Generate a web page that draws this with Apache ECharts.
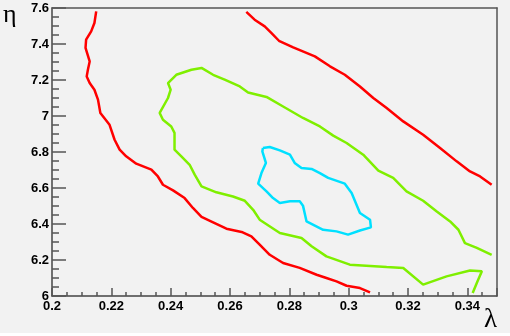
<!DOCTYPE html>
<html>
<head>
<meta charset="utf-8">
<script src="https://cdn.jsdelivr.net/npm/echarts@6/dist/echarts.min.js"></script>
<style>
  html, body { margin: 0; padding: 0; background: #ffffff; }
  #chart { width: 510px; height: 333px; background: #f2f2f2; }
</style>
</head>
<body>
<div id="chart"></div>
<script>
// contour lines, points as [lambda, eta]
const redLeft = [
  [0.2149, 7.581], [0.2143, 7.517], [0.2132, 7.470], [0.2115, 7.424], [0.2113, 7.378],
  [0.2127, 7.303], [0.2121, 7.257], [0.2117, 7.220], [0.2127, 7.183], [0.2143, 7.146],
  [0.2155, 7.091], [0.2163, 7.017], [0.2194, 6.951], [0.2211, 6.868], [0.2228, 6.813],
  [0.2250, 6.776], [0.2284, 6.735], [0.2335, 6.702], [0.2357, 6.664], [0.2374, 6.618],
  [0.2408, 6.587], [0.2447, 6.544], [0.2475, 6.489], [0.2504, 6.439], [0.2543, 6.409],
  [0.2588, 6.374], [0.2639, 6.356], [0.2672, 6.331], [0.2700, 6.285], [0.2734, 6.229],
  [0.2779, 6.183], [0.2835, 6.156], [0.2892, 6.118], [0.2925, 6.100], [0.2959, 6.081],
  [0.2993, 6.057], [0.3038, 6.044], [0.3072, 6.020]
]
const redRight = [
  [0.2655, 7.578], [0.2683, 7.535], [0.2717, 7.498], [0.2740, 7.461], [0.2765, 7.418],
  [0.2813, 7.381], [0.2886, 7.331], [0.2937, 7.276], [0.2987, 7.229], [0.3038, 7.164],
  [0.3083, 7.100], [0.3128, 7.044], [0.3184, 6.970], [0.3251, 6.896], [0.3308, 6.822],
  [0.3364, 6.748], [0.3409, 6.692], [0.3443, 6.664], [0.3482, 6.618]
]
const greenLine = [
  [0.3482, 6.229], [0.3432, 6.267], [0.3392, 6.294], [0.3370, 6.368], [0.3342, 6.414],
  [0.3297, 6.470], [0.3251, 6.529], [0.3195, 6.581], [0.3150, 6.656], [0.3100, 6.696],
  [0.3049, 6.785], [0.2993, 6.850], [0.2948, 6.891], [0.2903, 6.942], [0.2846, 6.989],
  [0.2779, 7.053], [0.2723, 7.106], [0.2661, 7.131], [0.2633, 7.164], [0.2582, 7.202],
  [0.2543, 7.229], [0.2504, 7.267], [0.2470, 7.257], [0.2419, 7.229], [0.2391, 7.183],
  [0.2400, 7.146], [0.2391, 7.100], [0.2363, 7.017], [0.2374, 6.979], [0.2402, 6.942],
  [0.2413, 6.906], [0.2413, 6.813], [0.2436, 6.776], [0.2464, 6.729], [0.2481, 6.674],
  [0.2504, 6.609], [0.2554, 6.576], [0.2610, 6.553], [0.2650, 6.529], [0.2678, 6.479],
  [0.2700, 6.424], [0.2768, 6.350], [0.2841, 6.322], [0.2875, 6.276], [0.2925, 6.220],
  [0.3004, 6.174], [0.3128, 6.161], [0.3184, 6.156], [0.3251, 6.063], [0.3330, 6.109],
  [0.3409, 6.142], [0.3449, 6.137], [0.3434, 6.081], [0.3418, 6.017]
]
const cyanLoop = [
  [0.2711, 6.822], [0.2734, 6.828], [0.2768, 6.809], [0.2802, 6.785], [0.2818, 6.739],
  [0.2841, 6.711], [0.2875, 6.706], [0.2903, 6.683], [0.2931, 6.656], [0.2987, 6.624],
  [0.3010, 6.572], [0.3038, 6.461], [0.3072, 6.424], [0.3075, 6.381], [0.3038, 6.364],
  [0.2998, 6.341], [0.2959, 6.359], [0.2914, 6.368], [0.2858, 6.414], [0.2846, 6.502],
  [0.2835, 6.526], [0.2802, 6.526], [0.2768, 6.517], [0.2745, 6.544], [0.2723, 6.581],
  [0.2695, 6.624], [0.2706, 6.683], [0.2721, 6.739], [0.2709, 6.803], [0.2711, 6.822]
]

const xRange = [0.2, 0.35]
const yRange = [6, 7.6]
const xLabel = 'λ'
const yLabel = 'η'

const chart = echarts.init(document.getElementById('chart'))

function contour(data, color) {
  return {
    type: 'line',
    data: data,
    showSymbol: false,
    smooth: false,
    silent: true,
    lineStyle: { color: color, width: 2.5 }
  }
}

const labelFont = {
  color: '#000',
  fontFamily: 'Liberation Sans',
  fontWeight: 'bold',
  fontSize: 13
}

// top / right frame lines: bare axes with only a line
function frameAxis(pos, range) {
  return {
    type: 'value', position: pos, min: range[0], max: range[1],
    axisLine: { show: true, lineStyle: { color: '#555', width: 1.5 } },
    axisTick: { show: false }, axisLabel: { show: false }, splitLine: { show: false }
  }
}

const option = {
  animation: false,
  grid: { left: 52, right: 13, top: 8, bottom: 37 },
  xAxis: [{
    type: 'value',
    min: xRange[0],
    max: xRange[1],
    interval: 0.02,
    axisLine: { show: true, lineStyle: { color: '#444', width: 1.5 } },
    axisTick: { show: true, inside: true, length: 8, lineStyle: { color: '#555', width: 1.5 } },
    minorTick: { show: true, splitNumber: 4, length: 4, lineStyle: { color: '#555', width: 1.5 } },
    splitLine: { show: false },
    axisLabel: Object.assign({ margin: 4, showMaxLabel: false,
      formatter: v => String(+v.toFixed(2)) }, labelFont)
  }, frameAxis('top', xRange)],
  yAxis: [{
    type: 'value',
    min: yRange[0],
    max: yRange[1],
    interval: 0.2,
    axisLine: { show: true, lineStyle: { color: '#444', width: 1.5 } },
    axisTick: { show: true, inside: true, length: 14, lineStyle: { color: '#555', width: 1.5 } },
    minorTick: { show: true, splitNumber: 4, length: 7, lineStyle: { color: '#555', width: 1.5 } },
    splitLine: { show: false },
    axisLabel: Object.assign({ margin: 3,
      formatter: v => String(+v.toFixed(1)) }, labelFont)
  }, frameAxis('right', yRange)],
  graphic: [
    { type: 'text', left: 3, top: 2,
      style: { text: yLabel, fontFamily: 'Liberation Serif', fontSize: 26, fill: '#000' } },
    { type: 'text', left: 484, top: 306,
      style: { text: xLabel, fontFamily: 'Liberation Serif', fontSize: 27, fill: '#000' } }
  ],
  series: [
    contour(redLeft, '#ff0000'),
    contour(redRight, '#ff0000'),
    contour(greenLine, '#7fef00'),
    contour(cyanLoop, '#00e0ff')
  ]
}
chart.setOption(option)
</script>
</body>
</html>
